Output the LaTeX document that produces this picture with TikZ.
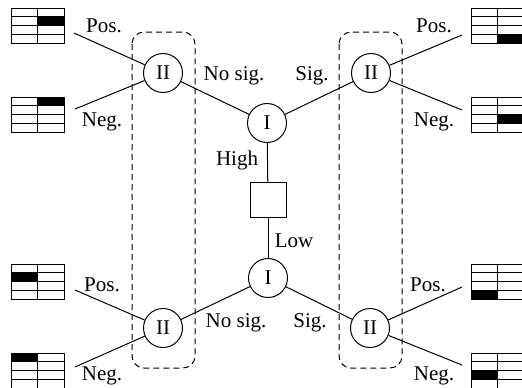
\documentclass[tikz,border=0pt]{standalone}
\usepackage{fontspec}
\setmainfont{Liberation Serif}
\usetikzlibrary{shapes}

\tikzset{
    chance/.style={draw, circle, minimum size=19.5pt, inner sep=0pt},
    decision/.style={draw, minimum width=18pt, minimum height=17.5pt, inner sep=0pt},
    lbl/.style={inner sep=0pt},
    group/.style={draw, dashed, dash pattern=on 3pt off 2pt, rounded corners=6pt}
}

% small 2x4 table, black cell at column #3, row #4
\newcommand{\cuetab}[4]{
    \fill (#1+#3*26.5-26.5, #2+#4*8.75-8.75) rectangle ++(26.5, 8.75);
    \draw (#1, #2) rectangle ++(53, 35);
    \draw (#1+26.5, #2) -- ++(0, 35);
    \foreach \r in {1,2,3} \draw (#1, #2+\r*8.75) -- ++(53, 0);
}

\begin{document}
\begin{tikzpicture}[x=0.5pt, y=-0.5pt, line width=0.5pt, font=\fontsize{10.5}{12}\selectfont]
    \useasboundingbox (0,0) rectangle (522,387);

    \draw[group] (132,32) rectangle (195,368);
    \draw[group] (339,32) rectangle (402,368);

    \node[chance] (I1) at (267,123) {I};
    \node[decision] (D) at (268,200) {};
    \node[chance] (I2) at (268,278) {I};
    \node[chance] (II1) at (163,73) {II};
    \node[chance] (II2) at (371,73) {II};
    \node[chance] (II3) at (163,328) {II};
    \node[chance] (II4) at (370,328) {II};

    \coordinate (P1) at (74,33);
    \coordinate (N1) at (75,109);
    \coordinate (P2) at (462,35);
    \coordinate (N2) at (462,110);
    \coordinate (P3) at (75,290);
    \coordinate (N3) at (75,367);
    \coordinate (P4) at (462,287);
    \coordinate (N4) at (462,365);

    \draw (I1) -- (II1);
    \draw (I1) -- (II2);
    \draw (I1) -- (D);
    \draw (D) -- (I2);
    \draw (I2) -- (II3);
    \draw (I2) -- (II4);
    \draw (II1) -- (P1);
    \draw (II1) -- (N1);
    \draw (II2) -- (P2);
    \draw (II2) -- (N2);
    \draw (II3) -- (P3);
    \draw (II3) -- (N3);
    \draw (II4) -- (P4);
    \draw (II4) -- (N4);

    \node[lbl] (nosig1) at (234,76) {No sig.};
    \node[lbl] (sig1) at (312,76) {Sig.};
    \node[lbl] (high) at (237,160) {High};
    \node[lbl] (low) at (294,241) {Low};
    \node[lbl] (nosig2) at (236,323) {No sig.};
    \node[lbl] (sig2) at (310,323) {Sig.};

    \node[lbl] (pos1) at (104,26) {Pos.};
    \node[lbl] (neg1) at (102,122) {Neg.};
    \node[lbl] (pos2) at (434,26) {Pos.};
    \node[lbl] (neg2) at (434,122) {Neg.};
    \node[lbl] (pos3) at (102,285) {Pos.};
    \node[lbl] (neg3) at (102,376) {Neg.};
    \node[lbl] (pos4) at (428,285) {Pos.};
    \node[lbl] (neg4) at (434,376) {Neg.};

    \cuetab{11}{8}{2}{2}
    \cuetab{11}{97}{2}{1}
    \cuetab{471}{8}{2}{4}
    \cuetab{471}{97}{2}{3}
    \cuetab{11}{264}{1}{2}
    \cuetab{11}{353}{1}{1}
    \cuetab{471}{264}{1}{4}
    \cuetab{471}{353}{1}{3}
\end{tikzpicture}
\end{document}
